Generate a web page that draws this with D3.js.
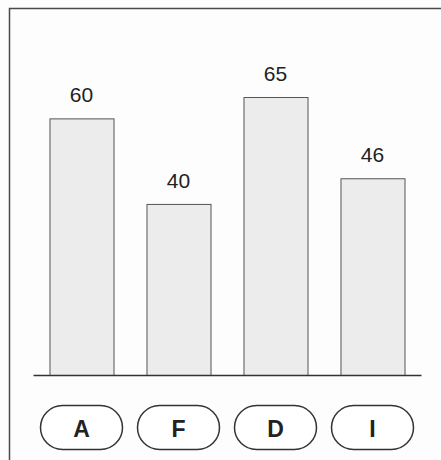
<!DOCTYPE html>
<html>
<head>
<meta charset="utf-8">
<script src="https://cdn.jsdelivr.net/npm/d3@7"></script>
<style>
  html, body { margin: 0; padding: 0; background: #fff; }
  svg { display: block; }
</style>
</head>
<body>
<svg id="chart" width="441" height="460"></svg>
<script>
const categories = ["A", "F", "D", "I"];
const values = [60, 40, 65, 46];

const svg = d3.select("#chart");
const W = 441, H = 460;
const baseY = 375;

svg.append("rect").attr("width", W).attr("height", H).attr("fill", "#fdfdfd");

// frame (top and left)
svg.append("path")
  .attr("d", `M9.5,${H} L9.5,8.5 L${W},8.5`)
  .attr("fill", "none").attr("stroke", "#4a4a4a").attr("stroke-width", 1.5);

const x = d3.scaleBand().domain(categories).range([33, 421])
  .paddingInner(0.34).paddingOuter(0.17);
const y = d3.scaleLinear().domain([0, 65]).range([baseY, 97]);

const g = svg.append("g");

g.selectAll("rect.bar").data(categories).join("rect")
  .attr("class", "bar")
  .attr("x", d => x(d) + 0.5)
  .attr("y", (d, i) => y(values[i]) + 0.5)
  .attr("width", x.bandwidth())
  .attr("height", (d, i) => baseY - y(values[i]))
  .attr("fill", "#ececec")
  .attr("stroke", "#555")
  .attr("stroke-width", 1);

g.selectAll("text.val").data(categories).join("text")
  .attr("class", "val")
  .attr("x", d => x(d) + x.bandwidth() / 2)
  .attr("y", (d, i) => y(values[i]) - 16)
  .attr("text-anchor", "middle")
  .style("font-family", "'Liberation Sans', Arial, sans-serif")
  .attr("font-size", 21)
  .attr("fill", "#222")
  .text((d, i) => values[i]);

// baseline axis
const axis = d3.axisBottom(x).tickSize(0).tickFormat("");
const ax = svg.append("g").attr("transform", `translate(0,${baseY})`).call(axis);
ax.select(".domain").attr("stroke", "#333").attr("stroke-width", 1.5);

// pill labels
const pillW = 82, pillH = 44, pillCy = 427.5;
const pills = svg.append("g").selectAll("g").data(categories).join("g")
  .attr("transform", d => `translate(${x(d) + x.bandwidth() / 2},${pillCy})`);
pills.append("rect")
  .attr("x", -pillW / 2).attr("y", -pillH / 2)
  .attr("width", pillW).attr("height", pillH)
  .attr("rx", pillH / 2).attr("ry", pillH / 2)
  .attr("fill", "#fff").attr("stroke", "#333").attr("stroke-width", 1.5);
pills.append("text")
  .attr("y", 9.5)
  .attr("text-anchor", "middle")
  .style("font-family", "'Liberation Sans', Arial, sans-serif")
  .attr("font-weight", "bold")
  .attr("font-size", 23)
  .attr("fill", "#222")
  .text(d => d);
</script>
</body>
</html>
